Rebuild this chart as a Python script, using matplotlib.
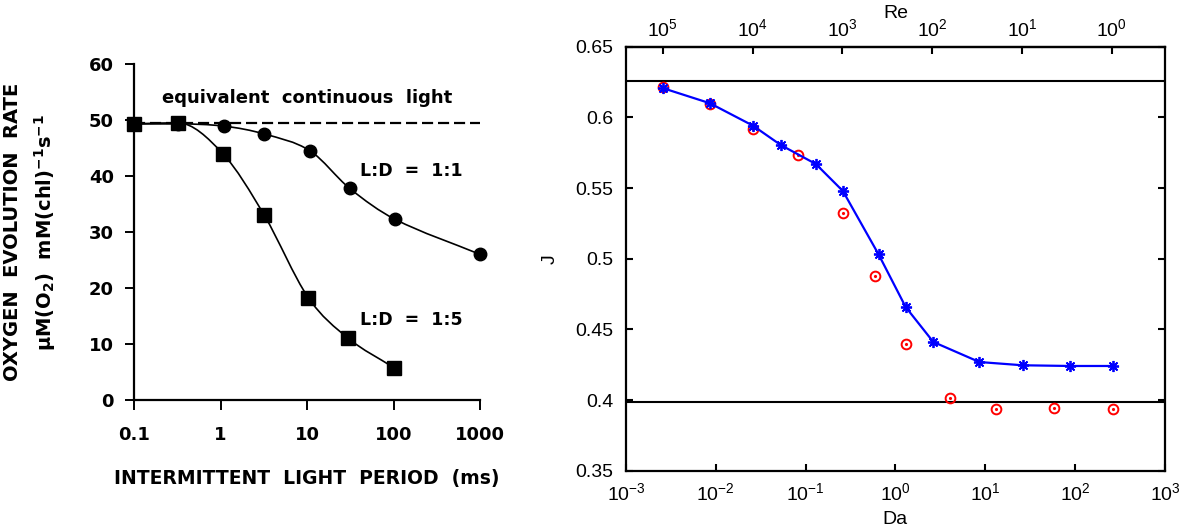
import numpy as np
import matplotlib
matplotlib.use("Agg")
import matplotlib.pyplot as plt
from matplotlib.path import Path
from matplotlib.patches import PathPatch
from matplotlib.ticker import NullLocator

plt.rcParams['font.family'] = ['Liberation Sans', 'DejaVu Sans']
plt.rcParams['mathtext.fontset'] = 'custom'
plt.rcParams['mathtext.rm'] = 'Liberation Sans'
plt.rcParams['mathtext.it'] = 'Liberation Sans:italic'
plt.rcParams['mathtext.bf'] = 'DejaVu Sans:bold'

# left panel : O2 evolution vs intermittent light period (ms)
period_15 = [0.1, 0.32, 1.06, 3.2, 10.3, 30, 100]
rate_15 = [49.3, 49.5, 44.0, 33.0, 18.3, 11.0, 5.8]
period_11 = [0.1, 0.32, 1.1, 3.2, 10.8, 31, 103, 1000]
rate_11 = [49.3, 49.3, 48.9, 47.5, 44.5, 37.8, 32.3, 26.0]
continuous_rate = 49.4
period_ticks = [0.1, 1, 10, 100, 1000]
period_labels = ['0.1', '1', '10', '100', '1000']

# right panel : J vs Da (top axis Re)
da_line = [0.0026, 0.0086, 0.026, 0.053, 0.13, 0.26, 0.65, 1.3, 2.64, 8.6, 26, 88, 266]
j_line = [0.6206, 0.6100, 0.5941, 0.5804, 0.5670, 0.5479, 0.5030, 0.4658,
          0.4411, 0.4269, 0.4246, 0.4241, 0.4241]
da_pts = [0.0026, 0.0086, 0.026, 0.0815, 0.26, 0.59, 1.3, 4.05, 13.1, 58, 262]
j_pts = [0.6217, 0.6095, 0.5920, 0.5734, 0.5321, 0.4881, 0.4396, 0.4016,
         0.3937, 0.3941, 0.3937]
j_upper = 0.6259
j_lower = 0.3986
re_times_da = 257.0
re_ticks = [1e5, 1e4, 1e3, 1e2, 1e1, 1e0]

BOLD = dict(family='DejaVu Sans', fontweight='bold')


def smooth_path(x, y):
    # smooth curve through the points (log-x), drawn as bezier segments
    lx = np.log10(x)
    y = np.asarray(y, float)
    h = np.diff(lx)
    d = np.diff(y) / h
    m = np.empty_like(y)
    m[0], m[-1] = d[0], d[-1]
    for i in range(1, len(y) - 1):
        if d[i - 1] * d[i] <= 0:
            m[i] = 0.0
        else:
            m[i] = (y[i + 1] - y[i - 1]) / (lx[i + 1] - lx[i - 1])
            lim = 3 * min(abs(d[i - 1]), abs(d[i]))
            m[i] = np.sign(m[i]) * min(abs(m[i]), lim)
    verts = [(lx[0], y[0])]
    codes = [Path.MOVETO]
    for i in range(len(h)):
        verts += [(lx[i] + h[i] / 3, y[i] + m[i] * h[i] / 3),
                  (lx[i + 1] - h[i] / 3, y[i + 1] - m[i + 1] * h[i] / 3),
                  (lx[i + 1], y[i + 1])]
        codes += [Path.CURVE4] * 3
    v = np.array(verts)
    v[:, 0] = 10 ** v[:, 0]
    return Path(v, codes)


fig = plt.figure(figsize=(11.81, 5.27), dpi=100)

# ---------------- left
ax1 = fig.add_axes([0.1135, 0.241, 0.293, 0.6376])
ax1.set_xscale('log')
ax1.set_xlim(0.1, 1000)
ax1.set_ylim(0, 60)
ax1.spines['top'].set_visible(False)
ax1.spines['right'].set_visible(False)
for s in ('left', 'bottom'):
    ax1.spines[s].set_linewidth(1.6)

ax1.plot([0.1, 1000], [continuous_rate, continuous_rate], color='k', lw=1.6,
         ls=(0, (5, 2.2)), zorder=2)
ax1.add_patch(PathPatch(smooth_path(period_11, rate_11), fill=False, ec='k', lw=1.2, zorder=3))
ax1.add_patch(PathPatch(smooth_path(period_15, rate_15), fill=False, ec='k', lw=1.2, zorder=3))
ax1.plot(period_11, rate_11, 'o', color='k', ms=9, ls='none', clip_on=False, zorder=4)
ax1.plot(period_15, rate_15, 's', color='k', ms=10, ls='none', clip_on=False, zorder=5)

ax1.set_xticks(period_ticks)
ax1.set_xticklabels(period_labels, fontsize=13, **BOLD)
ax1.xaxis.set_minor_locator(NullLocator())
ax1.set_yticks(range(0, 61, 10))
ax1.set_yticklabels([str(v) for v in range(0, 61, 10)], fontsize=13, **BOLD)
ax1.tick_params(axis='x', direction='out', length=7, width=1.4, pad=12)
ax1.tick_params(axis='y', direction='out', length=6.5, width=1.4, pad=8)

ax1.text(10, 53.9, 'equivalent  continuous  light', ha='center', va='center',
         fontsize=13, **BOLD)
ax1.text(41, 40.9, 'L:D  =  1:1', ha='left', va='center', fontsize=12.5, **BOLD)
ax1.text(41, 14.3, 'L:D  =  1:5', ha='left', va='center', fontsize=12.5, **BOLD)

ax1.set_xlabel('INTERMITTENT  LIGHT  PERIOD  (ms)', fontsize=13.5, labelpad=18, **BOLD)
ax1.set_ylabel('OXYGEN  EVOLUTION  RATE\n'
               r'μM(O$_\mathbf{2}$)  mM(chl)$^\mathbf{-1}$s$^\mathbf{-1}$',
               fontsize=14, linespacing=1.6, labelpad=22, **BOLD)

# ---------------- right
ax2 = fig.add_axes([0.530, 0.1068, 0.4564, 0.8046])
ax2.set_xscale('log')
ax2.set_xlim(1e-3, 1e3)
ax2.set_ylim(0.35, 0.65)
for s in ax2.spines.values():
    s.set_linewidth(1.6)

ax2.axhline(j_upper, color='k', lw=1.5, zorder=1)
ax2.axhline(j_lower, color='k', lw=1.5, zorder=1)
ax2.plot(da_pts, j_pts, 'o', mfc='none', mec='#ff0000', mew=1.4, ms=7, ls='none', zorder=2)
ax2.plot(da_pts, j_pts, '.', color='#ff0000', ms=2.5, ls='none', zorder=2)
ax2.plot(da_line, j_line, color='#0000ff', lw=1.6, marker=(8, 2, 0), ms=8,
         mew=1.3, zorder=3)

ax2.set_xticks([1e-3, 1e-2, 1e-1, 1e0, 1e1, 1e2, 1e3])
ax2.xaxis.set_minor_locator(NullLocator())
ax2.set_yticks([0.35, 0.4, 0.45, 0.5, 0.55, 0.6, 0.65])
ax2.set_yticklabels(['0.35', '0.4', '0.45', '0.5', '0.55', '0.6', '0.65'])
ax2.tick_params(axis='both', which='both', direction='in', length=5, width=1.5,
                labelsize=14, top=False, right=True)
ax2.tick_params(axis='x', pad=8)
ax2.tick_params(axis='y', pad=9)
ax2.set_xlabel('Da', fontsize=14, labelpad=5)
ax2.set_ylabel('J', fontsize=14, labelpad=12)


def da_to_re(da):
    with np.errstate(divide='ignore'):
        return re_times_da / np.asarray(da, float)


secax = ax2.secondary_xaxis('top', functions=(da_to_re, da_to_re))
secax.set_xticks(re_ticks)
secax.xaxis.set_minor_locator(NullLocator())
secax.tick_params(direction='in', length=5, width=1.5, labelsize=14, pad=5)
secax.spines['top'].set_linewidth(1.6)
secax.set_xlabel('Re', fontsize=14, labelpad=0)

fig.savefig('out.png', dpi=100)
